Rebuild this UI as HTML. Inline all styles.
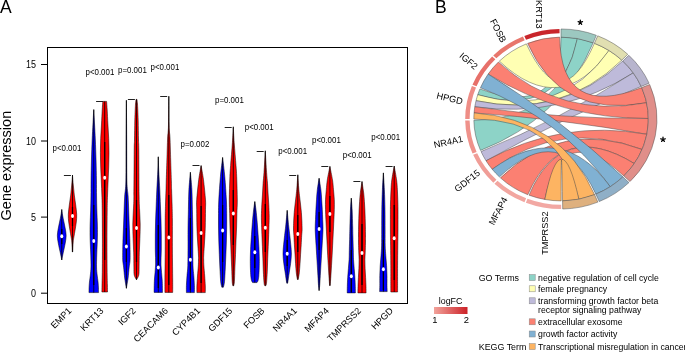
<!DOCTYPE html>
<html><head><meta charset="utf-8"><style>
html,body{margin:0;padding:0;background:#fff;}
svg{display:block;will-change:transform;}
text{font-family:"Liberation Sans", sans-serif;fill:#000;}
</style></head><body>
<svg width="685" height="352" viewBox="0 0 685 352">
<rect width="685" height="352" fill="#fff"/>
<rect x="47.5" y="47.5" width="360" height="256" fill="none" stroke="#000" stroke-width="1"/>
<line x1="41" y1="293.2" x2="47.5" y2="293.2" stroke="#000" stroke-width="1"/>
<text transform="translate(36,296.7) scale(0.9,1)" text-anchor="end" font-size="10">0</text>
<line x1="41" y1="217.1" x2="47.5" y2="217.1" stroke="#000" stroke-width="1"/>
<text transform="translate(36,220.6) scale(0.9,1)" text-anchor="end" font-size="10">5</text>
<line x1="41" y1="141" x2="47.5" y2="141" stroke="#000" stroke-width="1"/>
<text transform="translate(36,144.5) scale(0.9,1)" text-anchor="end" font-size="10">10</text>
<line x1="41" y1="64.5" x2="47.5" y2="64.5" stroke="#000" stroke-width="1"/>
<text transform="translate(36,68) scale(0.9,1)" text-anchor="end" font-size="10">15</text>
<text transform="translate(10.6,165.6) rotate(-90)" text-anchor="middle" font-size="14.5">Gene expression</text>
<path d="M61.75 209.5 C61.88 210.42 62.18 212.92 62.55 215 C62.92 217.08 63.48 219.67 63.95 222 C64.42 224.33 64.98 226.75 65.35 229 C65.72 231.25 66.13 233.33 66.15 235.5 C66.17 237.67 65.8 239.75 65.45 242 C65.1 244.25 64.5 246.83 64.05 249 C63.6 251.17 63.13 253.17 62.75 255 C62.37 256.83 61.92 259.17 61.75 260 L61.75 260 C61.58 259.17 61.13 256.83 60.75 255 C60.37 253.17 59.9 251.17 59.45 249 C59 246.83 58.4 244.25 58.05 242 C57.7 239.75 57.33 237.67 57.35 235.5 C57.37 233.33 57.78 231.25 58.15 229 C58.52 226.75 59.08 224.33 59.55 222 C60.02 219.67 60.58 217.08 60.95 215 C61.32 212.92 61.62 210.42 61.75 209.5Z" fill="#0000ff" stroke="#000" stroke-width="0.5"/>
<line x1="61.75" y1="209.5" x2="61.75" y2="260" stroke="#000" stroke-width="0.8"/>
<line x1="61.75" y1="229" x2="61.75" y2="244" stroke="#000" stroke-width="1.25"/>
<ellipse cx="61.75" cy="236.2" rx="1.5" ry="2" fill="#fff"/>
<path d="M72.5 175 C72.63 176.67 73 181.67 73.3 185 C73.6 188.33 73.9 191.67 74.3 195 C74.7 198.33 75.3 201.75 75.7 205 C76.1 208.25 76.6 211.67 76.7 214.5 C76.8 217.33 76.57 219.42 76.3 222 C76.03 224.58 75.5 227.5 75.1 230 C74.7 232.5 74.22 235 73.9 237 C73.58 239 73.4 239.5 73.2 242 C73 244.5 72.78 250.33 72.7 252 L72.3 252 C72.22 250.33 72 244.5 71.8 242 C71.6 239.5 71.42 239 71.1 237 C70.78 235 70.3 232.5 69.9 230 C69.5 227.5 68.97 224.58 68.7 222 C68.43 219.42 68.2 217.33 68.3 214.5 C68.4 211.67 68.9 208.25 69.3 205 C69.7 201.75 70.3 198.33 70.7 195 C71.1 191.67 71.4 188.33 71.7 185 C72 181.67 72.37 176.67 72.5 175Z" fill="#ff0000" stroke="#000" stroke-width="0.5"/>
<line x1="72.5" y1="175" x2="72.5" y2="252" stroke="#000" stroke-width="0.8"/>
<line x1="72.5" y1="207" x2="72.5" y2="226" stroke="#000" stroke-width="1.25"/>
<ellipse cx="72.5" cy="216" rx="1.5" ry="2" fill="#fff"/>
<line x1="63.9" y1="175.5" x2="70.9" y2="175.5" stroke="#222" stroke-width="1"/>
<path d="M93.75 109.6 C93.88 112 94.28 118.93 94.55 124 C94.82 129.07 95.1 134 95.35 140 C95.6 146 95.87 153.33 96.05 160 C96.23 166.67 96.37 174 96.45 180 C96.53 186 96.48 191 96.55 196 C96.62 201 96.72 205.33 96.85 210 C96.98 214.67 97.25 219.83 97.35 224 C97.45 228.17 97.48 231.5 97.45 235 C97.42 238.5 97.27 241.67 97.15 245 C97.03 248.33 96.85 251.33 96.75 255 C96.65 258.67 96.48 263.67 96.55 267 C96.62 270.33 96.9 272.5 97.15 275 C97.4 277.5 97.83 279.83 98.05 282 C98.27 284.17 98.37 286.23 98.45 288 C98.53 289.77 98.53 291.83 98.55 292.6 L88.95 292.6 C88.97 291.83 88.97 289.77 89.05 288 C89.13 286.23 89.23 284.17 89.45 282 C89.67 279.83 90.1 277.5 90.35 275 C90.6 272.5 90.88 270.33 90.95 267 C91.02 263.67 90.85 258.67 90.75 255 C90.65 251.33 90.47 248.33 90.35 245 C90.23 241.67 90.08 238.5 90.05 235 C90.02 231.5 90.05 228.17 90.15 224 C90.25 219.83 90.52 214.67 90.65 210 C90.78 205.33 90.88 201 90.95 196 C91.02 191 90.97 186 91.05 180 C91.13 174 91.27 166.67 91.45 160 C91.63 153.33 91.9 146 92.15 140 C92.4 134 92.68 129.07 92.95 124 C93.22 118.93 93.62 112 93.75 109.6Z" fill="#0000ff" stroke="#000" stroke-width="0.5"/>
<line x1="93.75" y1="109.6" x2="93.75" y2="292.6" stroke="#000" stroke-width="0.8"/>
<line x1="93.75" y1="205" x2="93.75" y2="285" stroke="#000" stroke-width="1.25"/>
<ellipse cx="93.75" cy="241" rx="1.5" ry="2" fill="#fff"/>
<path d="M106.6 101.4 C106.7 102.83 106.98 106.23 107.2 110 C107.42 113.77 107.65 119.23 107.9 124 C108.15 128.77 108.52 133.8 108.7 138.6 C108.88 143.4 109 148.07 109 152.8 C109 157.53 108.85 162.3 108.7 167 C108.55 171.7 108.3 176.17 108.1 181 C107.9 185.83 107.65 191.17 107.5 196 C107.35 200.83 107.28 202.67 107.2 210 C107.12 217.33 107.02 230 107 240 C106.98 250 107.03 262.5 107.1 270 C107.17 277.5 107.33 281.33 107.4 285 C107.47 288.67 107.48 290.83 107.5 292 L101.9 292 C101.92 290.83 101.93 288.67 102 285 C102.07 281.33 102.23 277.5 102.3 270 C102.37 262.5 102.42 250 102.4 240 C102.38 230 102.28 217.33 102.2 210 C102.12 202.67 102.05 200.83 101.9 196 C101.75 191.17 101.5 185.83 101.3 181 C101.1 176.17 100.85 171.7 100.7 167 C100.55 162.3 100.4 157.53 100.4 152.8 C100.4 148.07 100.52 143.4 100.7 138.6 C100.88 133.8 101.25 128.77 101.5 124 C101.75 119.23 101.98 113.77 102.2 110 C102.42 106.23 102.7 102.83 102.8 101.4Z" fill="#ff0000" stroke="#000" stroke-width="0.5"/>
<line x1="104.7" y1="101.4" x2="104.7" y2="292" stroke="#000" stroke-width="0.8"/>
<line x1="104.7" y1="142" x2="104.7" y2="260" stroke="#000" stroke-width="1.25"/>
<ellipse cx="104.7" cy="177.8" rx="1.5" ry="2" fill="#fff"/>
<line x1="96.1" y1="101.5" x2="103.1" y2="101.5" stroke="#222" stroke-width="1"/>
<path d="M126.4 100.3 C126.45 106.92 126.62 126.55 126.7 140 C126.78 153.45 126.67 171.67 126.9 181 C127.13 190.33 127.8 191.17 128.1 196 C128.4 200.83 128.52 205.33 128.7 210 C128.88 214.67 129.02 219.23 129.2 224 C129.38 228.77 129.65 233.8 129.8 238.6 C129.95 243.4 130.07 249.07 130.1 252.8 C130.13 256.53 130.15 258.63 130 261 C129.85 263.37 129.52 264.17 129.2 267 C128.88 269.83 128.57 274.45 128.1 278 C127.63 281.55 126.68 286.58 126.4 288.3 L126.4 288.3 C126.12 286.58 125.17 281.55 124.7 278 C124.23 274.45 123.92 269.83 123.6 267 C123.28 264.17 122.95 263.37 122.8 261 C122.65 258.63 122.67 256.53 122.7 252.8 C122.73 249.07 122.85 243.4 123 238.6 C123.15 233.8 123.42 228.77 123.6 224 C123.78 219.23 123.92 214.67 124.1 210 C124.28 205.33 124.4 200.83 124.7 196 C125 191.17 125.67 190.33 125.9 181 C126.13 171.67 126.02 153.45 126.1 140 C126.18 126.55 126.35 106.92 126.4 100.3Z" fill="#0000ff" stroke="#000" stroke-width="0.5"/>
<line x1="126.4" y1="100.3" x2="126.4" y2="288.3" stroke="#000" stroke-width="0.8"/>
<line x1="126.4" y1="228" x2="126.4" y2="262" stroke="#000" stroke-width="1.25"/>
<ellipse cx="126.4" cy="246.6" rx="1.5" ry="2" fill="#fff"/>
<path d="M137 99.4 C137.08 100.17 137.37 102.23 137.5 104 C137.63 105.77 137.68 107.17 137.8 110 C137.92 112.83 138.08 116 138.2 121 C138.32 126 138.4 135.17 138.5 140 C138.6 144.83 138.7 140.67 138.8 150 C138.9 159.33 138.97 186 139.1 196 C139.23 206 139.42 205.33 139.6 210 C139.78 214.67 140.15 219.23 140.2 224 C140.25 228.77 140.05 233.8 139.9 238.6 C139.75 243.4 139.43 248.07 139.3 252.8 C139.17 257.53 139.18 263.3 139.1 267 C139.02 270.7 139.23 272.87 138.8 275 C138.37 277.13 136.88 279 136.5 279.8 L136.5 279.8 C136.12 279 134.63 277.13 134.2 275 C133.77 272.87 133.98 270.7 133.9 267 C133.82 263.3 133.83 257.53 133.7 252.8 C133.57 248.07 133.25 243.4 133.1 238.6 C132.95 233.8 132.75 228.77 132.8 224 C132.85 219.23 133.22 214.67 133.4 210 C133.58 205.33 133.77 206 133.9 196 C134.03 186 134.1 159.33 134.2 150 C134.3 140.67 134.4 144.83 134.5 140 C134.6 135.17 134.68 126 134.8 121 C134.92 116 135.08 112.83 135.2 110 C135.32 107.17 135.37 105.77 135.5 104 C135.63 102.23 135.92 100.17 136 99.4Z" fill="#ff0000" stroke="#000" stroke-width="0.5"/>
<line x1="136.5" y1="99.4" x2="136.5" y2="279.8" stroke="#000" stroke-width="0.8"/>
<line x1="136.5" y1="200" x2="136.5" y2="262" stroke="#000" stroke-width="1.25"/>
<ellipse cx="136.5" cy="228" rx="1.5" ry="2" fill="#fff"/>
<line x1="127.9" y1="99.5" x2="134.9" y2="99.5" stroke="#222" stroke-width="1"/>
<path d="M158.3 156.8 C158.37 159 158.45 164.47 158.7 170 C158.95 175.53 159.52 184.17 159.8 190 C160.08 195.83 160.2 200 160.4 205 C160.6 210 160.85 215 161 220 C161.15 225 161.25 230 161.3 235 C161.35 240 161.35 245 161.3 250 C161.25 255 160.85 260 161 265 C161.15 270 161.95 275.43 162.2 280 C162.45 284.57 162.45 290.33 162.5 292.4 L154.1 292.4 C154.15 290.33 154.15 284.57 154.4 280 C154.65 275.43 155.45 270 155.6 265 C155.75 260 155.35 255 155.3 250 C155.25 245 155.25 240 155.3 235 C155.35 230 155.45 225 155.6 220 C155.75 215 156 210 156.2 205 C156.4 200 156.52 195.83 156.8 190 C157.08 184.17 157.65 175.53 157.9 170 C158.15 164.47 158.23 159 158.3 156.8Z" fill="#0000ff" stroke="#000" stroke-width="0.5"/>
<line x1="158.3" y1="156.8" x2="158.3" y2="292.4" stroke="#000" stroke-width="0.8"/>
<line x1="158.3" y1="225" x2="158.3" y2="288" stroke="#000" stroke-width="1.25"/>
<ellipse cx="158.3" cy="267.4" rx="1.5" ry="2" fill="#fff"/>
<path d="M168.8 96.25 C168.85 100.88 168.98 118.04 169.1 124 C169.22 129.96 169.35 129.67 169.5 132 C169.65 134.33 169.8 133.33 170 138 C170.2 142.67 170.47 152.67 170.7 160 C170.93 167.33 171.25 177 171.4 182 C171.55 187 171.48 186.17 171.6 190 C171.72 193.83 171.97 200 172.1 205 C172.23 210 172.35 212.5 172.4 220 C172.45 227.5 172.35 240 172.4 250 C172.45 260 172.65 272.93 172.7 280 C172.75 287.07 172.7 290.33 172.7 292.4 L164.9 292.4 C164.9 290.33 164.85 287.07 164.9 280 C164.95 272.93 165.15 260 165.2 250 C165.25 240 165.15 227.5 165.2 220 C165.25 212.5 165.37 210 165.5 205 C165.63 200 165.88 193.83 166 190 C166.12 186.17 166.05 187 166.2 182 C166.35 177 166.67 167.33 166.9 160 C167.13 152.67 167.4 142.67 167.6 138 C167.8 133.33 167.95 134.33 168.1 132 C168.25 129.67 168.38 129.96 168.5 124 C168.62 118.04 168.75 100.88 168.8 96.25Z" fill="#ff0000" stroke="#000" stroke-width="0.5"/>
<line x1="168.8" y1="96.25" x2="168.8" y2="292.4" stroke="#000" stroke-width="0.8"/>
<line x1="168.8" y1="195" x2="168.8" y2="285" stroke="#000" stroke-width="1.25"/>
<ellipse cx="168.8" cy="237.6" rx="1.5" ry="2" fill="#fff"/>
<line x1="160.2" y1="96.5" x2="167.2" y2="96.5" stroke="#222" stroke-width="1"/>
<path d="M190.4 172.3 C190.65 175.22 191.57 183.57 191.9 189.8 C192.23 196.03 192.25 203 192.4 209.7 C192.55 216.4 192.73 223.95 192.8 230 C192.87 236.05 192.77 240.03 192.8 246 C192.83 251.97 192.83 260.85 193 265.8 C193.17 270.75 193.57 272.4 193.8 275.7 C194.03 279 194.3 282.78 194.4 285.6 C194.5 288.42 194.4 291.43 194.4 292.6 L186.4 292.6 C186.4 291.43 186.3 288.42 186.4 285.6 C186.5 282.78 186.77 279 187 275.7 C187.23 272.4 187.63 270.75 187.8 265.8 C187.97 260.85 187.97 251.97 188 246 C188.03 240.03 187.93 236.05 188 230 C188.07 223.95 188.25 216.4 188.4 209.7 C188.55 203 188.57 196.03 188.9 189.8 C189.23 183.57 190.15 175.22 190.4 172.3Z" fill="#0000ff" stroke="#000" stroke-width="0.5"/>
<line x1="190.4" y1="172.3" x2="190.4" y2="292.6" stroke="#000" stroke-width="0.8"/>
<line x1="190.4" y1="218" x2="190.4" y2="290" stroke="#000" stroke-width="1.25"/>
<ellipse cx="190.4" cy="259.8" rx="1.5" ry="2" fill="#fff"/>
<path d="M201.1 165.6 C201.5 167.98 202.77 174.2 203.5 179.9 C204.23 185.6 205.17 194.83 205.5 199.8 C205.83 204.77 205.53 205.33 205.5 209.7 C205.47 214.07 205.4 221.62 205.3 226 C205.2 230.38 205.07 232.67 204.9 236 C204.73 239.33 204.5 242.67 204.3 246 C204.1 249.33 203.8 253.67 203.7 256 C203.6 258.33 203.67 258.33 203.7 260 C203.73 261.67 203.73 263.33 203.9 266 C204.07 268.67 204.47 272.67 204.7 276 C204.93 279.33 205.2 283.23 205.3 286 C205.4 288.77 205.3 291.5 205.3 292.6 L196.9 292.6 C196.9 291.5 196.8 288.77 196.9 286 C197 283.23 197.27 279.33 197.5 276 C197.73 272.67 198.13 268.67 198.3 266 C198.47 263.33 198.47 261.67 198.5 260 C198.53 258.33 198.6 258.33 198.5 256 C198.4 253.67 198.1 249.33 197.9 246 C197.7 242.67 197.47 239.33 197.3 236 C197.13 232.67 197 230.38 196.9 226 C196.8 221.62 196.73 214.07 196.7 209.7 C196.67 205.33 196.37 204.77 196.7 199.8 C197.03 194.83 197.97 185.6 198.7 179.9 C199.43 174.2 200.7 167.98 201.1 165.6Z" fill="#ff0000" stroke="#000" stroke-width="0.5"/>
<line x1="201.1" y1="165.6" x2="201.1" y2="292.6" stroke="#000" stroke-width="0.8"/>
<line x1="201.1" y1="206" x2="201.1" y2="283" stroke="#000" stroke-width="1.25"/>
<ellipse cx="201.1" cy="233" rx="1.5" ry="2" fill="#fff"/>
<line x1="192.5" y1="165.5" x2="199.5" y2="165.5" stroke="#222" stroke-width="1"/>
<path d="M222.6 157.5 C222.97 160.72 224.17 169.72 224.8 176.8 C225.43 183.88 226.08 193.87 226.4 200 C226.72 206.13 226.65 209.1 226.7 213.6 C226.75 218.1 226.75 222.43 226.7 227 C226.65 231.57 226.53 236.42 226.4 241 C226.27 245.58 226.08 250 225.9 254.5 C225.72 259 225.53 263.45 225.3 268 C225.07 272.55 224.82 278.6 224.5 281.8 C224.18 285 223.58 286.3 223.4 287.2 L221.8 287.2 C221.62 286.3 221.02 285 220.7 281.8 C220.38 278.6 220.13 272.55 219.9 268 C219.67 263.45 219.48 259 219.3 254.5 C219.12 250 218.93 245.58 218.8 241 C218.67 236.42 218.55 231.57 218.5 227 C218.45 222.43 218.45 218.1 218.5 213.6 C218.55 209.1 218.48 206.13 218.8 200 C219.12 193.87 219.77 183.88 220.4 176.8 C221.03 169.72 222.23 160.72 222.6 157.5Z" fill="#0000ff" stroke="#000" stroke-width="0.5"/>
<line x1="222.6" y1="157.5" x2="222.6" y2="287.2" stroke="#000" stroke-width="0.8"/>
<line x1="222.6" y1="205" x2="222.6" y2="262" stroke="#000" stroke-width="1.25"/>
<ellipse cx="222.6" cy="230.5" rx="1.5" ry="2" fill="#fff"/>
<path d="M233.3 126.8 C233.45 129.45 233.75 136.25 234.2 142.7 C234.65 149.15 235.58 159.82 236 165.5 C236.42 171.18 236.48 171.05 236.7 176.8 C236.92 182.55 237.27 193.87 237.3 200 C237.33 206.13 237.02 209.1 236.9 213.6 C236.78 218.1 236.75 222.43 236.6 227 C236.45 231.57 236.18 236.42 236 241 C235.82 245.58 235.68 250 235.5 254.5 C235.32 259 235.08 263.45 234.9 268 C234.72 272.55 234.6 278.83 234.4 281.8 C234.2 284.77 233.82 285.13 233.7 285.8 L232.9 285.8 C232.78 285.13 232.4 284.77 232.2 281.8 C232 278.83 231.88 272.55 231.7 268 C231.52 263.45 231.28 259 231.1 254.5 C230.92 250 230.78 245.58 230.6 241 C230.42 236.42 230.15 231.57 230 227 C229.85 222.43 229.82 218.1 229.7 213.6 C229.58 209.1 229.27 206.13 229.3 200 C229.33 193.87 229.68 182.55 229.9 176.8 C230.12 171.05 230.18 171.18 230.6 165.5 C231.02 159.82 231.95 149.15 232.4 142.7 C232.85 136.25 233.15 129.45 233.3 126.8Z" fill="#ff0000" stroke="#000" stroke-width="0.5"/>
<line x1="233.3" y1="126.8" x2="233.3" y2="285.8" stroke="#000" stroke-width="0.8"/>
<line x1="233.3" y1="190" x2="233.3" y2="245" stroke="#000" stroke-width="1.25"/>
<ellipse cx="233.3" cy="213.6" rx="1.5" ry="2" fill="#fff"/>
<line x1="224.7" y1="127.5" x2="231.7" y2="127.5" stroke="#222" stroke-width="1"/>
<path d="M254.8 201.6 C255 203 255.6 206.57 256 210 C256.4 213.43 256.85 218.13 257.2 222.2 C257.55 226.27 257.82 230.32 258.1 234.4 C258.38 238.48 258.7 242.62 258.9 246.7 C259.1 250.78 259.25 255.35 259.3 258.9 C259.35 262.45 259.28 265.15 259.2 268 C259.12 270.85 258.98 273.92 258.8 276 C258.62 278.08 258.4 279.4 258.1 280.5 C257.8 281.6 257.18 282.25 257 282.6 L252.6 282.6 C252.42 282.25 251.8 281.6 251.5 280.5 C251.2 279.4 250.98 278.08 250.8 276 C250.62 273.92 250.48 270.85 250.4 268 C250.32 265.15 250.25 262.45 250.3 258.9 C250.35 255.35 250.5 250.78 250.7 246.7 C250.9 242.62 251.22 238.48 251.5 234.4 C251.78 230.32 252.05 226.27 252.4 222.2 C252.75 218.13 253.2 213.43 253.6 210 C254 206.57 254.6 203 254.8 201.6Z" fill="#0000ff" stroke="#000" stroke-width="0.5"/>
<line x1="254.8" y1="201.6" x2="254.8" y2="282.6" stroke="#000" stroke-width="0.8"/>
<line x1="254.8" y1="236" x2="254.8" y2="268" stroke="#000" stroke-width="1.25"/>
<ellipse cx="254.8" cy="252.3" rx="1.5" ry="2" fill="#fff"/>
<path d="M265.3 150.8 C265.52 154.4 266.23 167 266.6 172.4 C266.97 177.8 267.25 179.6 267.5 183.2 C267.75 186.8 267.88 190.4 268.1 194 C268.32 197.6 268.62 201.13 268.8 204.8 C268.98 208.47 269.15 213.13 269.2 216 C269.25 218.87 269.18 218.93 269.1 222 C269.02 225.07 268.85 230.28 268.7 234.4 C268.55 238.52 268.37 242.62 268.2 246.7 C268.03 250.78 267.85 254.83 267.7 258.9 C267.55 262.97 267.5 267.03 267.3 271.1 C267.1 275.17 266.77 280.85 266.5 283.3 C266.23 285.75 265.83 285.38 265.7 285.8 L264.9 285.8 C264.77 285.38 264.37 285.75 264.1 283.3 C263.83 280.85 263.5 275.17 263.3 271.1 C263.1 267.03 263.05 262.97 262.9 258.9 C262.75 254.83 262.57 250.78 262.4 246.7 C262.23 242.62 262.05 238.52 261.9 234.4 C261.75 230.28 261.58 225.07 261.5 222 C261.42 218.93 261.35 218.87 261.4 216 C261.45 213.13 261.62 208.47 261.8 204.8 C261.98 201.13 262.28 197.6 262.5 194 C262.72 190.4 262.85 186.8 263.1 183.2 C263.35 179.6 263.63 177.8 264 172.4 C264.37 167 265.08 154.4 265.3 150.8Z" fill="#ff0000" stroke="#000" stroke-width="0.5"/>
<line x1="265.3" y1="150.8" x2="265.3" y2="285.8" stroke="#000" stroke-width="0.8"/>
<line x1="265.3" y1="204" x2="265.3" y2="252" stroke="#000" stroke-width="1.25"/>
<ellipse cx="265.3" cy="227.8" rx="1.5" ry="2" fill="#fff"/>
<line x1="256.7" y1="151.5" x2="263.7" y2="151.5" stroke="#222" stroke-width="1"/>
<path d="M287.2 210.4 C287.45 213 288.27 221.83 288.7 226 C289.13 230.17 289.45 232.27 289.8 235.4 C290.15 238.53 290.53 241.68 290.8 244.8 C291.07 247.92 291.43 250.98 291.4 254.1 C291.37 257.22 290.97 260.37 290.6 263.5 C290.23 266.63 289.67 269.77 289.2 272.9 C288.73 276.03 288.13 280.58 287.8 282.3 C287.47 284.02 287.3 283.05 287.2 283.2 L287.2 283.2 C287.1 283.05 286.93 284.02 286.6 282.3 C286.27 280.58 285.67 276.03 285.2 272.9 C284.73 269.77 284.17 266.63 283.8 263.5 C283.43 260.37 283.03 257.22 283 254.1 C282.97 250.98 283.33 247.92 283.6 244.8 C283.87 241.68 284.25 238.53 284.6 235.4 C284.95 232.27 285.27 230.17 285.7 226 C286.13 221.83 286.95 213 287.2 210.4Z" fill="#0000ff" stroke="#000" stroke-width="0.5"/>
<line x1="287.2" y1="210.4" x2="287.2" y2="283.2" stroke="#000" stroke-width="0.8"/>
<line x1="287.2" y1="240" x2="287.2" y2="266" stroke="#000" stroke-width="1.25"/>
<ellipse cx="287.2" cy="253.8" rx="1.5" ry="2" fill="#fff"/>
<path d="M297.8 174.8 C297.94 176.83 298.37 183.53 298.65 187 C298.93 190.47 299.19 192.77 299.5 195.6 C299.81 198.43 300.18 201.17 300.5 204 C300.82 206.83 301.17 209.77 301.4 212.6 C301.63 215.43 301.78 218.1 301.9 221 C302.02 223.9 302.13 227.6 302.1 230 C302.07 232.4 301.85 232.93 301.7 235.4 C301.55 237.87 301.38 241.68 301.2 244.8 C301.02 247.92 300.79 250.98 300.6 254.1 C300.41 257.22 300.27 260.37 300.05 263.5 C299.83 266.63 299.61 270.23 299.3 272.9 C298.99 275.57 298.38 278.4 298.2 279.5 L297.4 279.5 C297.22 278.4 296.61 275.57 296.3 272.9 C295.99 270.23 295.77 266.63 295.55 263.5 C295.33 260.37 295.19 257.22 295 254.1 C294.81 250.98 294.58 247.92 294.4 244.8 C294.22 241.68 294.05 237.87 293.9 235.4 C293.75 232.93 293.53 232.4 293.5 230 C293.47 227.6 293.58 223.9 293.7 221 C293.82 218.1 293.97 215.43 294.2 212.6 C294.43 209.77 294.78 206.83 295.1 204 C295.42 201.17 295.79 198.43 296.1 195.6 C296.41 192.77 296.67 190.47 296.95 187 C297.23 183.53 297.66 176.83 297.8 174.8Z" fill="#ff0000" stroke="#000" stroke-width="0.5"/>
<line x1="297.8" y1="174.8" x2="297.8" y2="279.5" stroke="#000" stroke-width="0.8"/>
<line x1="297.8" y1="215" x2="297.8" y2="252" stroke="#000" stroke-width="1.25"/>
<ellipse cx="297.8" cy="233.9" rx="1.5" ry="2" fill="#fff"/>
<line x1="289.2" y1="175.5" x2="296.2" y2="175.5" stroke="#222" stroke-width="1"/>
<path d="M319.1 178.3 C319.4 180.22 320.47 186.22 320.9 189.8 C321.33 193.38 321.47 196.48 321.7 199.8 C321.93 203.12 322.13 206.4 322.3 209.7 C322.47 213 322.58 216.55 322.7 219.6 C322.82 222.65 323 225.27 323 228 C323 230.73 322.85 233.02 322.7 236 C322.55 238.98 322.3 242.6 322.1 245.9 C321.9 249.2 321.7 252.48 321.5 255.8 C321.3 259.12 321.1 262.48 320.9 265.8 C320.7 269.12 320.5 272.4 320.3 275.7 C320.1 279 319.9 283.12 319.7 285.6 C319.5 288.08 319.2 289.77 319.1 290.6 L319.1 290.6 C319 289.77 318.7 288.08 318.5 285.6 C318.3 283.12 318.1 279 317.9 275.7 C317.7 272.4 317.5 269.12 317.3 265.8 C317.1 262.48 316.9 259.12 316.7 255.8 C316.5 252.48 316.3 249.2 316.1 245.9 C315.9 242.6 315.65 238.98 315.5 236 C315.35 233.02 315.2 230.73 315.2 228 C315.2 225.27 315.38 222.65 315.5 219.6 C315.62 216.55 315.73 213 315.9 209.7 C316.07 206.4 316.27 203.12 316.5 199.8 C316.73 196.48 316.87 193.38 317.3 189.8 C317.73 186.22 318.8 180.22 319.1 178.3Z" fill="#0000ff" stroke="#000" stroke-width="0.5"/>
<line x1="319.1" y1="178.3" x2="319.1" y2="290.6" stroke="#000" stroke-width="0.8"/>
<line x1="319.1" y1="212" x2="319.1" y2="250" stroke="#000" stroke-width="1.25"/>
<ellipse cx="319.1" cy="229" rx="1.5" ry="2" fill="#fff"/>
<path d="M329.9 166.4 C330.33 168.65 331.9 176 332.5 179.9 C333.1 183.8 333.2 186.48 333.5 189.8 C333.8 193.12 334.17 196.48 334.3 199.8 C334.43 203.12 334.37 206.4 334.3 209.7 C334.23 213 334.03 216.55 333.9 219.6 C333.77 222.65 333.63 225.27 333.5 228 C333.37 230.73 333.25 233.02 333.1 236 C332.95 238.98 332.77 242.6 332.6 245.9 C332.43 249.2 332.28 252.48 332.1 255.8 C331.92 259.12 331.7 262.48 331.5 265.8 C331.3 269.12 331.12 272.4 330.9 275.7 C330.68 279 330.32 283.95 330.2 285.6 L329.6 285.6 C329.48 283.95 329.12 279 328.9 275.7 C328.68 272.4 328.5 269.12 328.3 265.8 C328.1 262.48 327.88 259.12 327.7 255.8 C327.52 252.48 327.37 249.2 327.2 245.9 C327.03 242.6 326.85 238.98 326.7 236 C326.55 233.02 326.43 230.73 326.3 228 C326.17 225.27 326.03 222.65 325.9 219.6 C325.77 216.55 325.57 213 325.5 209.7 C325.43 206.4 325.37 203.12 325.5 199.8 C325.63 196.48 326 193.12 326.3 189.8 C326.6 186.48 326.7 183.8 327.3 179.9 C327.9 176 329.47 168.65 329.9 166.4Z" fill="#ff0000" stroke="#000" stroke-width="0.5"/>
<line x1="329.9" y1="166.4" x2="329.9" y2="285.6" stroke="#000" stroke-width="0.8"/>
<line x1="329.9" y1="196" x2="329.9" y2="232" stroke="#000" stroke-width="1.25"/>
<ellipse cx="329.9" cy="214.1" rx="1.5" ry="2" fill="#fff"/>
<line x1="321.3" y1="166.5" x2="328.3" y2="166.5" stroke="#222" stroke-width="1"/>
<path d="M351.3 198.2 C351.44 200.17 351.92 205.2 352.15 210 C352.38 214.8 352.57 222.67 352.7 227 C352.82 231.33 352.8 232.13 352.9 236 C353 239.87 353.2 246.32 353.3 250.2 C353.4 254.08 353.35 256.27 353.5 259.3 C353.65 262.33 353.97 265.37 354.2 268.4 C354.43 271.43 354.72 274.48 354.9 277.5 C355.08 280.52 355.22 283.93 355.3 286.5 C355.38 289.07 355.38 291.83 355.4 292.9 L347.2 292.9 C347.22 291.83 347.22 289.07 347.3 286.5 C347.38 283.93 347.52 280.52 347.7 277.5 C347.88 274.48 348.17 271.43 348.4 268.4 C348.63 265.37 348.95 262.33 349.1 259.3 C349.25 256.27 349.2 254.08 349.3 250.2 C349.4 246.32 349.6 239.87 349.7 236 C349.8 232.13 349.78 231.33 349.9 227 C350.03 222.67 350.22 214.8 350.45 210 C350.68 205.2 351.16 200.17 351.3 198.2Z" fill="#0000ff" stroke="#000" stroke-width="0.5"/>
<line x1="351.3" y1="198.2" x2="351.3" y2="292.9" stroke="#000" stroke-width="0.8"/>
<line x1="351.3" y1="250" x2="351.3" y2="292" stroke="#000" stroke-width="1.25"/>
<ellipse cx="351.3" cy="276.2" rx="1.5" ry="2" fill="#fff"/>
<path d="M362 181.5 C362.28 183.42 363.3 189.65 363.7 193 C364.1 196.35 364.2 198.77 364.4 201.6 C364.6 204.43 364.77 207.17 364.9 210 C365.03 212.83 365.12 215.77 365.2 218.6 C365.28 221.43 365.35 224.1 365.4 227 C365.45 229.9 365.48 233.67 365.5 236 C365.52 238.33 365.53 238.63 365.5 241 C365.47 243.37 365.4 247.15 365.3 250.2 C365.2 253.25 364.93 256.27 364.9 259.3 C364.87 262.33 364.98 265.37 365.1 268.4 C365.22 271.43 365.45 274.48 365.6 277.5 C365.75 280.52 365.92 283.93 366 286.5 C366.08 289.07 366.08 291.83 366.1 292.9 L357.9 292.9 C357.92 291.83 357.92 289.07 358 286.5 C358.08 283.93 358.25 280.52 358.4 277.5 C358.55 274.48 358.78 271.43 358.9 268.4 C359.02 265.37 359.13 262.33 359.1 259.3 C359.07 256.27 358.8 253.25 358.7 250.2 C358.6 247.15 358.53 243.37 358.5 241 C358.47 238.63 358.48 238.33 358.5 236 C358.52 233.67 358.55 229.9 358.6 227 C358.65 224.1 358.72 221.43 358.8 218.6 C358.88 215.77 358.97 212.83 359.1 210 C359.23 207.17 359.4 204.43 359.6 201.6 C359.8 198.77 359.9 196.35 360.3 193 C360.7 189.65 361.72 183.42 362 181.5Z" fill="#ff0000" stroke="#000" stroke-width="0.5"/>
<line x1="362" y1="181.5" x2="362" y2="292.9" stroke="#000" stroke-width="0.8"/>
<line x1="362" y1="224" x2="362" y2="285" stroke="#000" stroke-width="1.25"/>
<ellipse cx="362" cy="252.9" rx="1.5" ry="2" fill="#fff"/>
<line x1="353.4" y1="181.5" x2="360.4" y2="181.5" stroke="#222" stroke-width="1"/>
<path d="M383.4 172.9 C383.57 175.72 384.13 183.67 384.4 189.8 C384.67 195.93 384.88 203 385 209.7 C385.12 216.4 385.07 223.97 385.1 230 C385.13 236.03 385.08 241.6 385.2 245.9 C385.32 250.2 385.57 252.48 385.8 255.8 C386.03 259.12 386.4 262.48 386.6 265.8 C386.8 269.12 386.93 272.4 387 275.7 C387.07 279 386.97 282.95 387 285.6 C387.03 288.25 387.17 290.6 387.2 291.6 L379.6 291.6 C379.63 290.6 379.77 288.25 379.8 285.6 C379.83 282.95 379.73 279 379.8 275.7 C379.87 272.4 380 269.12 380.2 265.8 C380.4 262.48 380.77 259.12 381 255.8 C381.23 252.48 381.48 250.2 381.6 245.9 C381.72 241.6 381.67 236.03 381.7 230 C381.73 223.97 381.68 216.4 381.8 209.7 C381.92 203 382.13 195.93 382.4 189.8 C382.67 183.67 383.23 175.72 383.4 172.9Z" fill="#0000ff" stroke="#000" stroke-width="0.5"/>
<line x1="383.4" y1="172.9" x2="383.4" y2="291.6" stroke="#000" stroke-width="0.8"/>
<line x1="383.4" y1="240" x2="383.4" y2="290" stroke="#000" stroke-width="1.25"/>
<ellipse cx="383.4" cy="269.3" rx="1.5" ry="2" fill="#fff"/>
<path d="M394.2 166 C394.6 168.32 396.07 175.93 396.6 179.9 C397.13 183.87 397.2 186.48 397.4 189.8 C397.6 193.12 397.7 196.48 397.8 199.8 C397.9 203.12 397.97 204.67 398 209.7 C398.03 214.73 398.03 223.97 398 230 C397.97 236.03 397.87 239.93 397.8 245.9 C397.73 251.87 397.63 259.18 397.6 265.8 C397.57 272.42 397.6 281.23 397.6 285.6 C397.6 289.97 397.6 290.93 397.6 292 L390.8 292 C390.8 290.93 390.8 289.97 390.8 285.6 C390.8 281.23 390.83 272.42 390.8 265.8 C390.77 259.18 390.67 251.87 390.6 245.9 C390.53 239.93 390.43 236.03 390.4 230 C390.37 223.97 390.37 214.73 390.4 209.7 C390.43 204.67 390.5 203.12 390.6 199.8 C390.7 196.48 390.8 193.12 391 189.8 C391.2 186.48 391.27 183.87 391.8 179.9 C392.33 175.93 393.8 168.32 394.2 166Z" fill="#ff0000" stroke="#000" stroke-width="0.5"/>
<line x1="394.2" y1="166" x2="394.2" y2="292" stroke="#000" stroke-width="0.8"/>
<line x1="394.2" y1="205" x2="394.2" y2="280" stroke="#000" stroke-width="1.25"/>
<ellipse cx="394.2" cy="238.3" rx="1.5" ry="2" fill="#fff"/>
<line x1="385.6" y1="166.5" x2="392.6" y2="166.5" stroke="#222" stroke-width="1"/>
<text transform="translate(52.5,150.75) scale(0.9,1)" font-size="8.8" fill="#222">p&lt;0.001</text>
<text transform="translate(85.5,74.7) scale(0.9,1)" font-size="8.8" fill="#222">p&lt;0.001</text>
<text transform="translate(118,72.75) scale(0.9,1)" font-size="8.8" fill="#222">p=0.001</text>
<text transform="translate(150.5,70) scale(0.9,1)" font-size="8.8" fill="#222">p&lt;0.001</text>
<text transform="translate(180.5,146.5) scale(0.9,1)" font-size="8.8" fill="#222">p=0.002</text>
<text transform="translate(215,102.75) scale(0.9,1)" font-size="8.8" fill="#222">p=0.001</text>
<text transform="translate(244.75,129.5) scale(0.9,1)" font-size="8.8" fill="#222">p&lt;0.001</text>
<text transform="translate(278.25,154) scale(0.9,1)" font-size="8.8" fill="#222">p&lt;0.001</text>
<text transform="translate(312,143.25) scale(0.9,1)" font-size="8.8" fill="#222">p&lt;0.001</text>
<text transform="translate(342.75,157.5) scale(0.9,1)" font-size="8.8" fill="#222">p&lt;0.001</text>
<text transform="translate(371.25,140) scale(0.9,1)" font-size="8.8" fill="#222">p&lt;0.001</text>
<text transform="translate(72.12,311.3) rotate(-45)" text-anchor="end" font-size="9.2">EMP1</text>
<text transform="translate(104.22,311.3) rotate(-45)" text-anchor="end" font-size="9.2">KRT13</text>
<text transform="translate(136.45,311.3) rotate(-45)" text-anchor="end" font-size="9.2">IGF2</text>
<text transform="translate(168.55,311.3) rotate(-45)" text-anchor="end" font-size="9.2">CEACAM6</text>
<text transform="translate(200.75,311.3) rotate(-45)" text-anchor="end" font-size="9.2">CYP4B1</text>
<text transform="translate(232.95,311.3) rotate(-45)" text-anchor="end" font-size="9.2">GDF15</text>
<text transform="translate(265.05,311.3) rotate(-45)" text-anchor="end" font-size="9.2">FOSB</text>
<text transform="translate(297.5,311.3) rotate(-45)" text-anchor="end" font-size="9.2">NR4A1</text>
<text transform="translate(329.5,311.3) rotate(-45)" text-anchor="end" font-size="9.2">MFAP4</text>
<text transform="translate(361.65,311.3) rotate(-45)" text-anchor="end" font-size="9.2">TMPRSS2</text>
<text transform="translate(393.8,311.3) rotate(-45)" text-anchor="end" font-size="9.2">HPGD</text>
<text x="0" y="12.6" font-size="17.5">A</text>
<g transform="translate(561.1,119) scale(0.959,0.9)">
<path d="M-86.92 -26.95 A91 91 0 0 1 -84.64 -33.43 Q0 0 -0.08 -91 A91 91 0 0 1 16.97 -89.4 Q0 0 -86.92 -26.95 Z" fill="#8dd3c7" stroke="#444" stroke-width="0.5"/>
<path d="M-84.04 34.9 A91 91 0 0 1 -90.99 1.51 Q0 0 16.97 -89.4 A91 91 0 0 1 33.43 -84.64 Q0 0 -84.04 34.9 Z" fill="#8dd3c7" stroke="#444" stroke-width="0.5"/>
<path d="M-64.4 -64.29 A91 91 0 0 1 -36.21 -83.48 Q0 0 34.75 -84.1 A91 91 0 0 1 49.89 -76.1 Q0 0 -64.4 -64.29 Z" fill="#ffffb3" stroke="#444" stroke-width="0.5"/>
<path d="M-88.7 -20.33 A91 91 0 0 1 -86.92 -26.95 Q0 0 49.89 -76.1 A91 91 0 0 1 63.27 -65.4 Q0 0 -88.7 -20.33 Z" fill="#ffffb3" stroke="#444" stroke-width="0.5"/>
<path d="M-89.98 -13.59 A91 91 0 0 1 -88.7 -20.33 Q0 0 64.29 -64.4 A91 91 0 0 1 75.22 -51.22 Q0 0 -89.98 -13.59 Z" fill="#bebada" stroke="#444" stroke-width="0.5"/>
<path d="M-78.29 46.39 A91 91 0 0 1 -83.48 36.21 Q0 0 75.22 -51.22 A91 91 0 0 1 83.48 -36.21 Q0 0 -78.29 46.39 Z" fill="#bebada" stroke="#444" stroke-width="0.5"/>
<path d="M-34.9 -84.04 A91 91 0 0 1 -1.51 -90.99 Q0 0 84.04 -34.9 A91 91 0 0 1 89.19 -18.06 Q0 0 -34.9 -84.04 Z" fill="#fb8072" stroke="#444" stroke-width="0.5"/>
<path d="M-76.1 -49.89 A91 91 0 0 1 -65.4 -63.27 Q0 0 89.19 -18.06 A91 91 0 0 1 91 -0.56 Q0 0 -76.1 -49.89 Z" fill="#fb8072" stroke="#444" stroke-width="0.5"/>
<path d="M-90.75 -6.78 A91 91 0 0 1 -89.98 -13.59 Q0 0 91 -0.56 A91 91 0 0 1 89.4 16.97 Q0 0 -90.75 -6.78 Z" fill="#fb8072" stroke="#444" stroke-width="0.5"/>
<path d="M-71.86 55.84 A91 91 0 0 1 -78.29 46.39 Q0 0 89.4 16.97 A91 91 0 0 1 84.46 33.87 Q0 0 -71.86 55.84 Z" fill="#fb8072" stroke="#444" stroke-width="0.5"/>
<path d="M-34.75 84.1 A91 91 0 0 1 -63.27 65.4 Q0 0 84.46 33.87 A91 91 0 0 1 76.36 49.5 Q0 0 -34.75 84.1 Z" fill="#fb8072" stroke="#444" stroke-width="0.5"/>
<path d="M-16.97 89.4 A91 91 0 0 1 -33.43 84.64 Q0 0 76.36 49.5 A91 91 0 0 1 65.4 63.27 Q0 0 -16.97 89.4 Z" fill="#fb8072" stroke="#444" stroke-width="0.5"/>
<path d="M-84.1 -34.75 A91 91 0 0 1 -76.1 -49.89 Q0 0 64.4 64.29 A91 91 0 0 1 51.22 75.22 Q0 0 -84.1 -34.75 Z" fill="#80b1d3" stroke="#444" stroke-width="0.5"/>
<path d="M-64.29 64.4 A91 91 0 0 1 -71.86 55.84 Q0 0 51.22 75.22 A91 91 0 0 1 36.21 83.48 Q0 0 -64.29 64.4 Z" fill="#80b1d3" stroke="#444" stroke-width="0.5"/>
<path d="M-91 0.08 A91 91 0 0 1 -90.75 -6.78 Q0 0 34.9 84.04 A91 91 0 0 1 18.53 89.09 Q0 0 -91 0.08 Z" fill="#fdb462" stroke="#444" stroke-width="0.5"/>
<path d="M0.08 91 A91 91 0 0 1 -16.97 89.4 Q0 0 18.53 89.09 A91 91 0 0 1 1.51 90.99 Q0 0 0.08 91 Z" fill="#fdb462" stroke="#444" stroke-width="0.5"/>
<path d="M-38.35 -92.35 A100 100 0 0 1 -1.66 -99.99 L-1.58 -95.39 A95.4 95.4 0 0 0 -36.58 -88.11 Z" fill="#c9252b"/>
<path d="M-70.77 -70.65 A100 100 0 0 1 -39.79 -91.74 L-37.96 -87.52 A95.4 95.4 0 0 0 -67.52 -67.4 Z" fill="#e8766c"/>
<path d="M-92.42 -38.19 A100 100 0 0 1 -71.87 -69.53 L-68.57 -66.33 A95.4 95.4 0 0 0 -88.17 -36.43 Z" fill="#e7706a"/>
<path d="M-100 0.09 A100 100 0 0 1 -93.01 -36.73 L-88.73 -35.04 A95.4 95.4 0 0 0 -95.4 0.08 Z" fill="#ee8d86"/>
<path d="M-92.35 38.35 A100 100 0 0 1 -99.99 1.66 L-95.39 1.58 A95.4 95.4 0 0 0 -88.11 36.58 Z" fill="#ef928b"/>
<path d="M-70.65 70.77 A100 100 0 0 1 -91.74 39.79 L-87.52 37.96 A95.4 95.4 0 0 0 -67.4 67.52 Z" fill="#f09d97"/>
<path d="M-38.19 92.42 A100 100 0 0 1 -69.53 71.87 L-66.33 68.57 A95.4 95.4 0 0 0 -36.43 88.17 Z" fill="#f2a6a0"/>
<path d="M0.09 100 A100 100 0 0 1 -36.73 93.01 L-35.04 88.73 A95.4 95.4 0 0 0 0.08 95.4 Z" fill="#f2a8a3"/>
<path d="M-0.09 -100 A100 100 0 0 1 36.73 -93.01 L33.43 -84.64 A91 91 0 0 0 -0.08 -91 Z" fill="#9cc8c0" stroke="#555" stroke-width="0.55"/>
<path d="M38.19 -92.42 A100 100 0 0 1 69.53 -71.87 L63.27 -65.4 A91 91 0 0 0 34.75 -84.1 Z" fill="#e1dfb1" stroke="#555" stroke-width="0.55"/>
<path d="M70.65 -70.77 A100 100 0 0 1 91.74 -39.79 L83.48 -36.21 A91 91 0 0 0 64.29 -64.4 Z" fill="#b7b4cd" stroke="#555" stroke-width="0.55"/>
<path d="M92.35 -38.35 A100 100 0 0 1 71.87 69.53 L65.4 63.27 A91 91 0 0 0 84.04 -34.9 Z" fill="#e08e89" stroke="#555" stroke-width="0.55"/>
<path d="M70.77 70.65 A100 100 0 0 1 39.79 91.74 L36.21 83.48 A91 91 0 0 0 64.4 64.29 Z" fill="#8fafc7" stroke="#555" stroke-width="0.55"/>
<path d="M38.35 92.35 A100 100 0 0 1 1.66 99.99 L1.51 90.99 A91 91 0 0 0 34.9 84.04 Z" fill="#deb07e" stroke="#555" stroke-width="0.55"/>
</g>
<text transform="translate(538.8,14.3) rotate(90)" text-anchor="middle" dominant-baseline="central" font-size="9.2">KRT13</text>
<text transform="translate(498.05,30.8) rotate(63)" text-anchor="middle" dominant-baseline="central" font-size="9.2">FOSB</text>
<text transform="translate(468.45,61.1) rotate(40)" text-anchor="middle" dominant-baseline="central" font-size="9.2">IGF2</text>
<text transform="translate(449.7,98.55) rotate(13.3)" text-anchor="middle" dominant-baseline="central" font-size="9.2">HPGD</text>
<text transform="translate(448.3,142) rotate(-12.3)" text-anchor="middle" dominant-baseline="central" font-size="9.2">NR4A1</text>
<text transform="translate(467.35,180.95) rotate(-38)" text-anchor="middle" dominant-baseline="central" font-size="9.2">GDF15</text>
<text transform="translate(498.3,211.1) rotate(-62.5)" text-anchor="middle" dominant-baseline="central" font-size="9.2">MFAP4</text>
<text transform="translate(544.5,233.1) rotate(-90)" text-anchor="middle" dominant-baseline="central" font-size="9.2">TMPRSS2</text>
<text x="434.9" y="12.7" font-size="17.5">B</text>
<path d="M580.3 22.4L580.3 20.1M580.3 22.4L582.49 21.69M580.3 22.4L581.65 24.26M580.3 22.4L578.95 24.26M580.3 22.4L578.11 21.69" stroke="#000" stroke-width="1.3" stroke-linecap="round"/>
<path d="M663 139.5L663 137.2M663 139.5L665.19 138.79M663 139.5L664.35 141.36M663 139.5L661.65 141.36M663 139.5L660.81 138.79" stroke="#000" stroke-width="1.3" stroke-linecap="round"/>
<text x="450.6" y="303.8" text-anchor="middle" font-size="8.9">logFC</text>
<defs><linearGradient id="lg" x1="0" x2="1" y1="0" y2="0"><stop offset="0" stop-color="#f2a39b"/><stop offset="1" stop-color="#cc2127"/></linearGradient></defs>
<rect x="434" y="307" width="33.5" height="7" fill="url(#lg)"/>
<text x="434.8" y="322.6" text-anchor="middle" font-size="9.4">1</text>
<text x="466.4" y="322.6" text-anchor="middle" font-size="9.4">2</text>
<text x="519" y="280.7" text-anchor="end" font-size="8.9">GO Terms</text>
<text x="526.4" y="350.4" text-anchor="end" font-size="8.9">KEGG Term</text>
<rect x="529.2" y="274.6" width="6" height="6" fill="#8dd3c7" stroke="#888" stroke-width="0.5"/>
<text x="538.1" y="280.7" font-size="8.7">negative regulation of cell cycle</text>
<rect x="529.2" y="285.8" width="6" height="6" fill="#ffffb3" stroke="#888" stroke-width="0.5"/>
<text x="538.1" y="291.9" font-size="8.7">female pregnancy</text>
<rect x="529.2" y="297.8" width="6" height="6" fill="#bebada" stroke="#888" stroke-width="0.5"/>
<text x="538.1" y="303.9" font-size="8.7">transforming growth factor beta</text>
<text x="538.1" y="313.2" font-size="8.7">receptor signaling pathway</text>
<rect x="529.2" y="318.8" width="6" height="6" fill="#fb8072" stroke="#888" stroke-width="0.5"/>
<text x="538.1" y="325.2" font-size="8.7">extracellular exosome</text>
<rect x="529.2" y="331" width="6" height="6" fill="#80b1d3" stroke="#888" stroke-width="0.5"/>
<text x="538.1" y="337.3" font-size="8.7">growth factor activity</text>
<rect x="529.2" y="343.6" width="6" height="6" fill="#fdb462" stroke="#888" stroke-width="0.5"/>
<text x="538.1" y="350.4" font-size="8.7">Transcriptional misregulation in cancer</text>
</svg>
</body></html>
